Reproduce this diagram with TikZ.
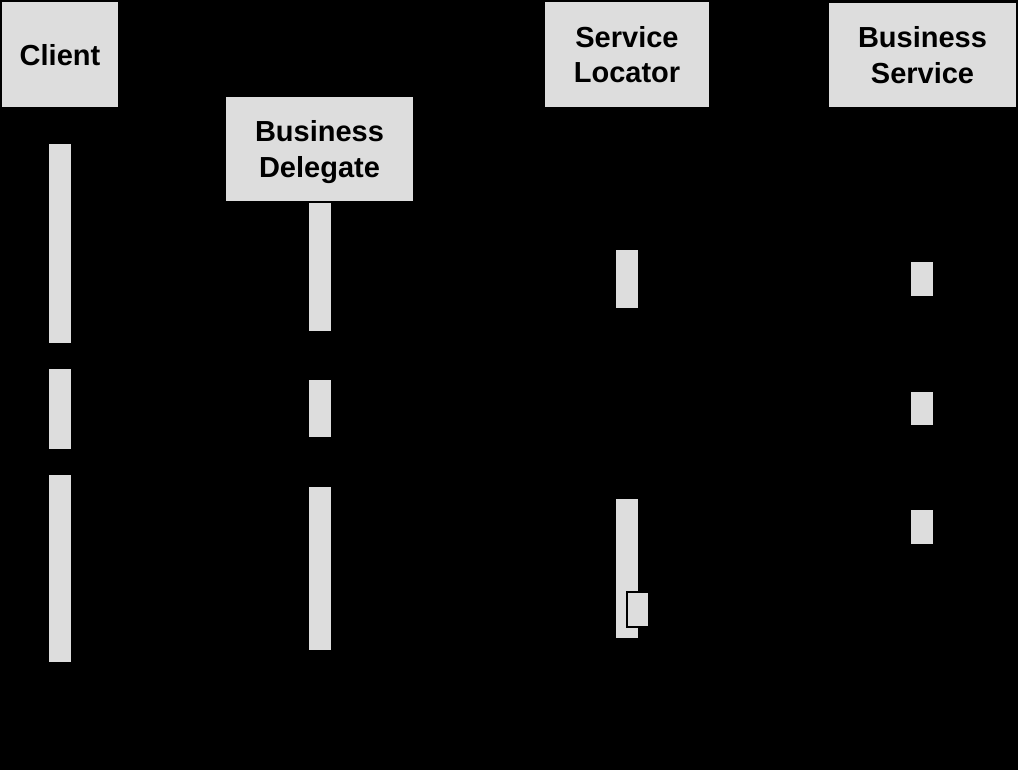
\documentclass[tikz,border=0pt]{standalone}
\usepackage{fontspec}
\setmainfont{Liberation Sans}
\definecolor{boxgray}{RGB}{221,221,221}
\begin{document}
\begin{tikzpicture}[x=1pt,y=-1pt,
  box/.style={fill=boxgray,draw=none,inner sep=0pt,align=center,text depth=0pt,
    font=\fontsize{29}{35.5}\selectfont\bfseries,text=black},
  bar/.style={fill=boxgray,draw=none,inner sep=0pt,minimum width=22pt},
  nested/.style={fill=boxgray,draw=black,line width=2pt,inner sep=0pt,minimum width=22pt,minimum height=35pt}]
\fill[black] (0,0) rectangle (1018,770);
\useasboundingbox (0,0) rectangle (1018,770);
% lifeline heads
\node[box,minimum width=116pt,minimum height=105pt] (client) at (60,54.5) {Client};
\node[box,minimum width=187pt,minimum height=104pt] (bd) at (319.5,149) {Business\\Delegate};
\node[box,minimum width=164pt,minimum height=105pt] (sl) at (627,54.5) {Service\\Locator};
\node[box,minimum width=187pt,minimum height=104pt] (bs) at (922.5,55) {Business\\Service};
% client activations
\node[bar,minimum height=199pt] (c1) at (60,243.5) {};
\node[bar,minimum height=80pt] (c2) at (60,409) {};
\node[bar,minimum height=187pt] (c3) at (60,568.5) {};
% business delegate activations
\node[bar,minimum height=128pt] (d1) at (320,267) {};
\node[bar,minimum height=57pt] (d2) at (320,408.5) {};
\node[bar,minimum height=163pt] (d3) at (320,568.5) {};
% service locator activations
\node[bar,minimum height=58pt] (s1) at (627,279) {};
\node[bar,minimum height=139pt] (s2) at (627,568.5) {};
\node[nested] (s3) at (638,609.5) {};
% business service activations
\node[bar,minimum height=34pt] (b1) at (922,279) {};
\node[bar,minimum height=33pt] (b2) at (922,408.5) {};
\node[bar,minimum height=34pt] (b3) at (922,527) {};
\end{tikzpicture}
\end{document}
